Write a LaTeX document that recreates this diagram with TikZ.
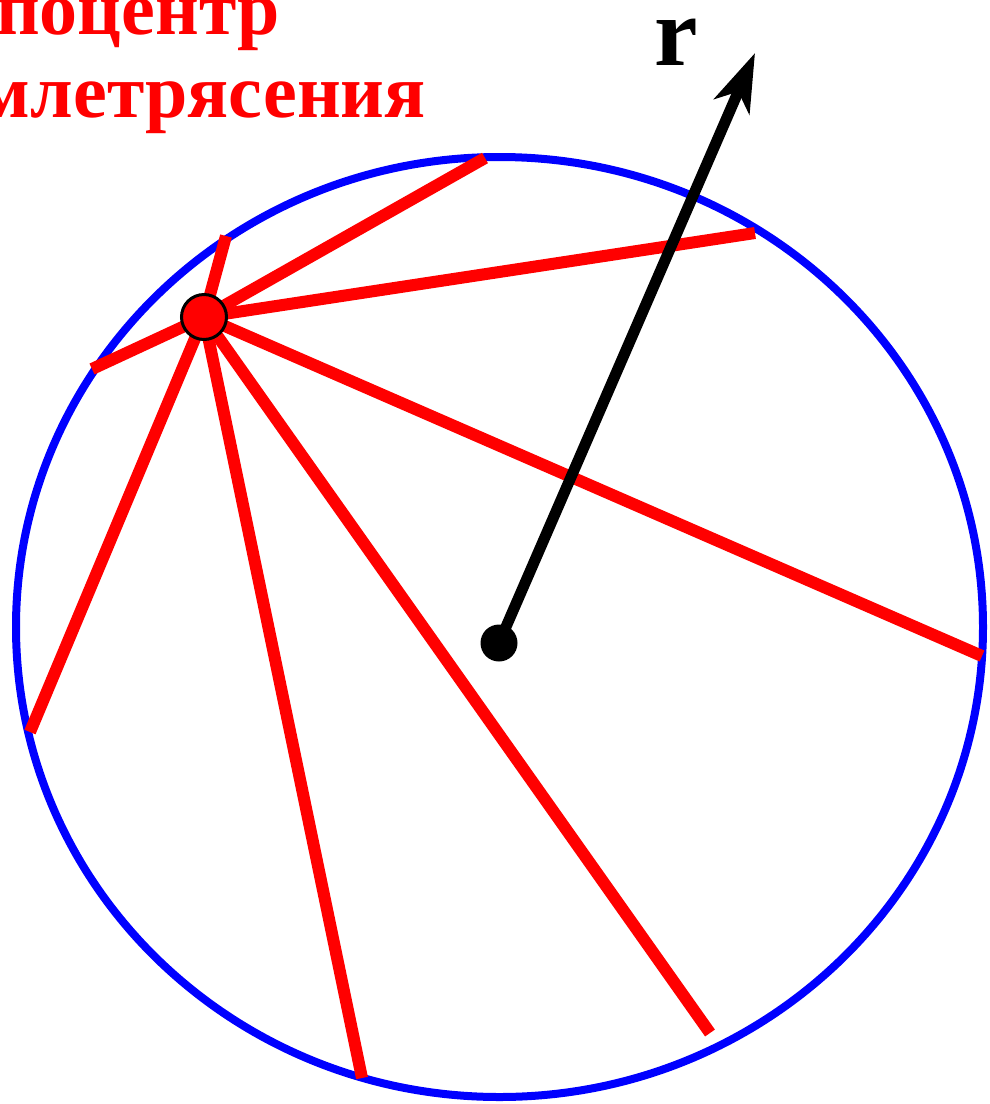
\documentclass[tikz,border=0pt]{standalone}
\usepackage{fontspec}
\setmainfont{Liberation Serif}
\usetikzlibrary{arrows.meta}
\begin{document}
\begin{tikzpicture}[x=1pt,y=-1pt,
  ray/.style={red, line width=12pt},
  earth/.style={blue, line width=8pt},
  vec/.style={black, line width=11pt, -{Stealth[length=58pt, width=38pt, inset=16pt]}},
  epinode/.style={circle, fill=red, draw=black, line width=3pt, minimum size=45pt, inner sep=0pt},
  cdot/.style={circle, fill=black, minimum size=37pt, inner sep=0pt},
  lbl/.style={red, font=\fontsize{76}{78}\selectfont\bfseries, inner sep=0pt, anchor=base east},
  rlbl/.style={black, font=\fontsize{98}{100}\selectfont\bfseries, inner sep=0pt, anchor=base}]
\useasboundingbox (0,0) rectangle (989,1104);
\clip (0,0) rectangle (989,1104);
\draw[earth] (499.5,627) ellipse [x radius=483.5pt, y radius=470pt];
\coordinate (E) at (204,317);
\coordinate (p1) at (226,236);
\coordinate (p2) at (485,158);
\coordinate (p3) at (755,233);
\coordinate (p4) at (982,656);
\coordinate (p5) at (710,1033);
\coordinate (p6) at (362,1078);
\coordinate (p7) at (30,732);
\coordinate (p8) at (92,369);
\foreach \p in {p1,p2,p3,p4,p5,p6,p7,p8} \draw[ray] (E) -- (\p);
\node[epinode] (epi) at (E) {};
\node[cdot] (c) at (499,643) {};
\coordinate (tip) at (755,53);
\draw[vec] (c.center) -- (tip);
\node[lbl] (t1) at (280,34) {Гипоцентр};
\node[lbl] (t2) at (426,117) {землетрясения};
\node[rlbl] (r) at (676,65) {r};
\end{tikzpicture}
\end{document}
